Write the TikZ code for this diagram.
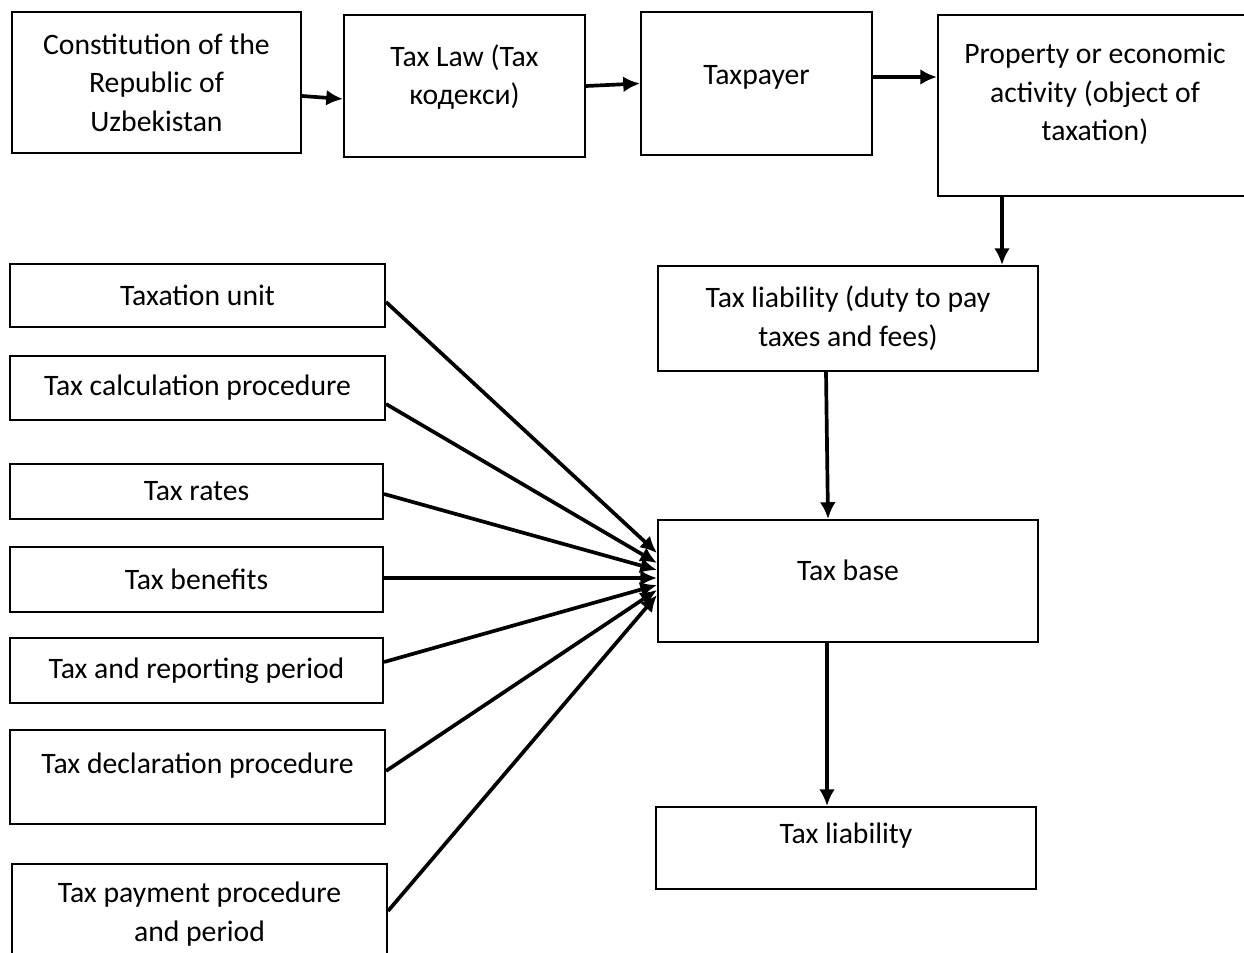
\documentclass[tikz,border=0pt]{standalone}
\usepackage{fontspec}
\setmainfont{Carlito}
\usepackage{tikz}
\usetikzlibrary{shapes,arrows,arrows.meta,positioning,calc}

\tikzset{
    box/.style={draw, line width=1.2pt, inner sep=0pt, align=center, font=\fontsize{16.9}{22}\selectfont},
    link/.style={line width=2.1pt, ->, >={Latex[length=9.5pt,width=9pt]}}
}

\begin{document}
\begin{tikzpicture}[x=0.02cm, y=-0.02cm]
            \useasboundingbox (0,0) rectangle (1244,953);
            
            % Top row
            \node[box, minimum width=5.78cm, minimum height=2.82cm] (constitution) at (156.5,82.5) {Constitution of the\\Republic of\\Uzbekistan};
            \node[box, minimum width=4.82cm, minimum height=2.84cm, text depth=0.46cm] (taxlaw) at (464.5,86) {Tax Law (Tax\\кодекси)};
            \node[box, minimum width=4.62cm, minimum height=2.86cm, text depth=0.34cm] (taxpayer) at (756.5,83.5) {Taxpayer};
            \node[box, minimum width=6.28cm, minimum height=3.62cm, text depth=0.54cm] (object) at (1095,105.5) {Property or economic\\activity (object of\\taxation)};
            
            % Right column
            \node[box, minimum width=7.6cm, minimum height=2.1cm] (duty) at (848,318.5) {Tax liability (duty to pay\\taxes and fees)};
            \node[box, minimum width=7.6cm, minimum height=2.44cm, text depth=0.44cm] (base) at (848,581) {Tax base};
            \node[box, minimum width=7.6cm, minimum height=1.64cm, text depth=0.6cm] (liability) at (846,848) {Tax liability};
            
            % Elements on the left
            \node[box, minimum width=7.5cm, minimum height=1.26cm] (unit) at (197.5,295.5) {Taxation unit};
            \node[box, minimum width=7.5cm, minimum height=1.28cm] (calc) at (197.5,388) {Tax calculation procedure};
            \node[box, minimum width=7.46cm, minimum height=1.10cm] (rates) at (196.5,491.5) {Tax rates};
            \node[box, minimum width=7.46cm, minimum height=1.30cm] (benefits) at (196.5,579.5) {Tax benefits};
            \node[box, minimum width=7.46cm, minimum height=1.30cm] (period) at (196.5,670.5) {Tax and reporting period};
            \node[box, minimum width=7.5cm, minimum height=1.88cm, text depth=0.56cm] (declaration) at (197.5,777) {Tax declaration procedure};
            \node[box, minimum width=7.5cm, minimum height=2.22cm, text depth=0.32cm] (payment) at (199.5,919.5) {Tax payment procedure\\and period};
            
            % Chain along the top
            \draw[link] ([yshift=-0.27cm]constitution.east) -- ([yshift=-0.26cm]taxlaw.west);
            \draw[link] (taxlaw.east) -- (taxpayer.west);
            \draw[link] ([yshift=0.13cm]taxpayer.east) -- ([yshift=0.13cm]taxpayer.east -| object.west);
            \draw[link] ([xshift=-1.86cm]object.south) -- ([xshift=-1.86cm]object.south |- duty.north);
            \draw[link] ([xshift=-0.44cm]duty.south) -- ([xshift=-0.40cm]base.north);
            \draw[link] ([xshift=-0.42cm]base.south) -- ([xshift=-0.42cm]base.south |- liability.north);
            
            % Elements into the tax base
            \draw[link] ([yshift=-0.13cm]unit.east) -- ([yshift=0.56cm]base.west);
            \draw[link] ([yshift=-0.32cm]calc.east) -- ([yshift=0.36cm]base.west);
            \draw[link] ([yshift=-0.05cm]rates.east) -- ([yshift=0.22cm]base.west);
            \draw[link] ([yshift=0.03cm]benefits.east) -- ([yshift=0.06cm]base.west);
            \draw[link] ([yshift=0.17cm]period.east) -- ([yshift=-0.08cm]base.west);
            \draw[link] ([yshift=0.12cm]declaration.east) -- ([yshift=-0.18cm]base.west);
            \draw[link] ([yshift=0.17cm]payment.east) -- ([yshift=-0.28cm]base.west);
        \end{tikzpicture}
\end{document}
